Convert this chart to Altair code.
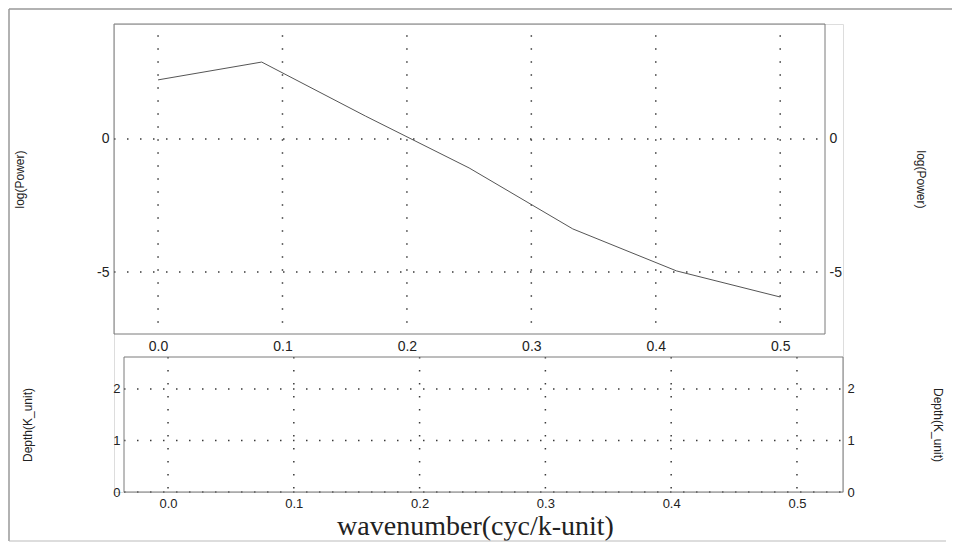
import altair as alt
import pandas as pd

# ---- data ----
wavenumber = [0.0, 0.0833, 0.1667, 0.25, 0.3333, 0.4167, 0.5]
log_power = [2.22, 2.89, 0.86, -1.09, -3.38, -4.96, -5.94]
x_ticks = [0.0, 0.1, 0.2, 0.3, 0.4, 0.5]
power_ticks = [0, -5]
depth_ticks = [0, 1, 2]

# ---- layout (pixels, relative to the top panel's upper-left corner) ----
W, H = 729, 468                 # whole drawing area holding both panels
TOP = dict(x0=0, x1=711, y0=0, y1=310)
BOT = dict(x0=10, x1=729, y0=333, y1=468)

# visible value ranges of each panel
top_x_vis = (-0.0354, 0.536)
top_y_vis = (-7.33, 4.32)
bot_x_vis = (-0.035, 0.5366)
bot_y_vis = (0.0, 2.62)


def full_domain(v0, v1, p0, p1, q0, q1):
    """value range that maps pixel q0..q1 when v0..v1 must sit at pixels p0..p1"""
    slope = (v1 - v0) / (p1 - p0)
    return [v0 + (q0 - p0) * slope, v0 + (q1 - p0) * slope]


top_x_dom = full_domain(*top_x_vis, TOP["x0"], TOP["x1"], 0, W)
bot_x_dom = full_domain(*bot_x_vis, BOT["x0"], BOT["x1"], 0, W)
# y pixels grow downward: value v0 at bottom pixel
top_y_dom = full_domain(*top_y_vis, TOP["y1"], TOP["y0"], H, 0)
bot_y_dom = full_domain(*bot_y_vis, BOT["y1"], BOT["y0"], H, 0)

FONT = "Liberation Sans"
TXT = "#222222"
FRAME = "#7a7a7a"
GRID = dict(color="#3a3a3a", strokeDash=[1.5, 11.5], strokeWidth=1.5)

spectrum = pd.DataFrame({"k": wavenumber, "p": log_power})
xt = pd.DataFrame({"k": x_ticks})
xt2 = pd.DataFrame({"kb": x_ticks})
pt = pd.DataFrame({"p": power_ticks})
dt = pd.DataFrame({"d": depth_ticks})
one = pd.DataFrame({"a": [0]})


def yaxis(orient, values, title, size, pad, tpad, ty, offset=0):
    return alt.Axis(orient=orient, values=values, title=title, grid=False, ticks=False,
                    domain=False, labelFontSize=size, labelPadding=pad, labelColor=TXT,
                    labelFont=FONT, labelExpr="'' + datum.value", titleFont=FONT,
                    titleFontSize=12, titleFontWeight="normal", titleColor=TXT,
                    titlePadding=tpad, titleY=ty, offset=offset)


ys_top = alt.Scale(domain=top_y_dom, nice=False, zero=False)
ys_bot = alt.Scale(domain=bot_y_dom, nice=False, zero=False)
xs_top = alt.Scale(domain=top_x_dom, nice=False, zero=False)
xs_bot = alt.Scale(domain=bot_x_dom, nice=False, zero=False)
top_mid = (TOP["y0"] + TOP["y1"]) / 2
bot_mid = (BOT["y0"] + BOT["y1"]) / 2

# ---------- top panel ----------
top_vgrid = alt.Chart(xt).mark_rule(strokeDashOffset=1.7, **GRID).encode(
    x=alt.X("k:Q", scale=xs_top,
            axis=alt.Axis(orient="bottom", values=x_ticks, format=".1f", grid=False, ticks=False,
                          domain=False, labelPadding=5, labelFontSize=14, labelColor=TXT,
                          labelFont=FONT, labelFlush=False, title=None, offset=TOP["y1"] - H)),
    y=alt.value(TOP["y0"]), y2=alt.value(TOP["y1"]),
)
top_line = alt.Chart(spectrum).mark_line(color="#555555", strokeWidth=1).encode(
    x=alt.X("k:Q", scale=xs_top, axis=None),
    y=alt.Y("p:Q", scale=ys_top, axis=yaxis("left", power_ticks, "log(Power)", 14, 5, 70, top_mid)),
)
top_hgrid = alt.Chart(pt).mark_rule(**GRID).encode(
    y=alt.Y("p:Q", scale=ys_top,
            axis=yaxis("right", power_ticks, "log(Power)", 14, 4, 72, top_mid, offset=TOP["x1"] - W)),
    x=alt.value(TOP["x0"]), x2=alt.value(TOP["x1"]),
)
top_box = alt.Chart(one).mark_rect(fillOpacity=0, stroke=FRAME, strokeWidth=1).encode(
    x=alt.value(TOP["x0"]), x2=alt.value(TOP["x1"]), y=alt.value(TOP["y0"]), y2=alt.value(TOP["y1"]))

# ---------- bottom panel ----------
bot_vgrid = alt.Chart(xt2).mark_rule(**GRID).encode(
    x=alt.X("kb:Q", scale=xs_bot,
            axis=alt.Axis(orient="bottom", values=x_ticks, format=".1f", grid=False, ticks=False,
                          domain=False, labelPadding=5, labelFontSize=13, labelColor=TXT,
                          labelFont=FONT, labelFlush=False, title="wavenumber(cyc/k-unit)",
                          titleFont="Liberation Serif", titleFontSize=28, titleX=361,
                          titleFontWeight="normal", titleColor=TXT, titlePadding=2)),
    y=alt.value(BOT["y0"]), y2=alt.value(BOT["y1"]),
)
bot_hgrid = alt.Chart(dt).mark_rule(**GRID).encode(
    y=alt.Y("d:Q", scale=ys_bot,
            axis=yaxis("left", depth_ticks, "Depth(K_unit)", 13, 4, 78, bot_mid, offset=-BOT["x0"])),
    x=alt.value(BOT["x0"]), x2=alt.value(BOT["x1"]),
)
bot_right = alt.Chart(dt).mark_rule(opacity=0).encode(
    y=alt.Y("d:Q", scale=ys_bot, axis=yaxis("right", depth_ticks, "Depth(K_unit)", 13, 4, 76, bot_mid)),
    x=alt.value(BOT["x0"]), x2=alt.value(BOT["x1"]),
)
bot_box = alt.Chart(one).mark_rect(fillOpacity=0, stroke=FRAME, strokeWidth=1).encode(
    x=alt.value(BOT["x0"]), x2=alt.value(BOT["x1"]), y=alt.value(BOT["y0"]), y2=alt.value(BOT["y1"]))

# ---------- outer page border of the scanned figure ----------
outer_top = alt.Chart(one).mark_rule(color="#999999", strokeWidth=1.5).encode(
    x=alt.value(-105), x2=alt.value(838), y=alt.value(-15))
outer_left = alt.Chart(one).mark_rule(color="#999999", strokeWidth=1.5).encode(
    x=alt.value(-105), y=alt.value(-15), y2=alt.value(517))
outer_bottom = alt.Chart(one).mark_rule(color="#bbbbbb", strokeWidth=1).encode(
    x=alt.value(-105), x2=alt.value(832), y=alt.value(517))

chart = alt.layer(
    top_vgrid, top_line, top_hgrid, top_box,
    bot_vgrid, bot_hgrid, bot_right, bot_box,
    outer_top, outer_left, outer_bottom,
).resolve_scale(x="independent", y="independent").properties(
    width=W, height=H, padding=0
).configure_view(stroke="transparent").configure(font=FONT, background="white")

chart.save("out.html", embed_options={"renderer": "svg", "actions": False})
